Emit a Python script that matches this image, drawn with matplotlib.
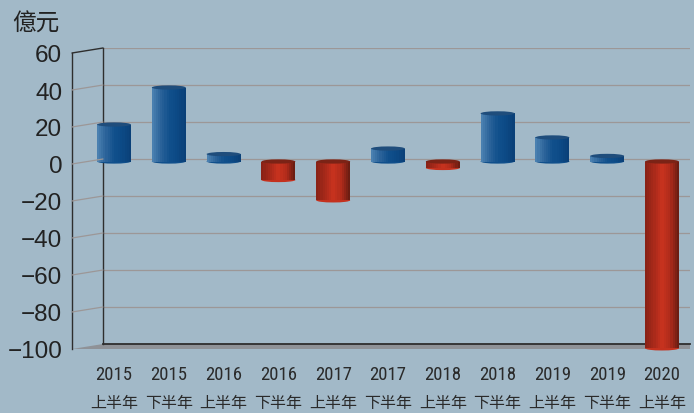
import matplotlib
matplotlib.use("Agg")
import matplotlib.pyplot as plt
from matplotlib.patches import Ellipse, Polygon, ConnectionPatch
from matplotlib.colors import LinearSegmentedColormap
from matplotlib import font_manager
import numpy as np

# ---------------- data ----------------
years = ["2015", "2015", "2016", "2016", "2017", "2017", "2018", "2018", "2019", "2019", "2020"]
halves = ["上半年", "下半年", "上半年", "下半年", "上半年", "下半年", "上半年", "下半年", "上半年", "下半年", "上半年"]
values = [20, 40, 4, -10, -21, 7, -3.5, 26, 13, 3, -101]
y_ticks = [60, 40, 20, 0, -20, -40, -60, -80, -100]
unit_label = "億元"

# ---------------- style ----------------
W, H = 694, 414
BG = "#a2b9c8"
GRID = "#9c9797"
DARK = "#2e2e2e"

available = {f.name for f in font_manager.fontManager.ttflist}
narrow = next((n for n in ["Liberation Sans Narrow", "DejaVu Sans Condensed", "Roboto Condensed",
                           "Open Sans Condensed", "Liberation Sans"] if n in available), "DejaVu Sans")
CJK = "Noto Sans CJK TC"

blue_cmap = LinearSegmentedColormap.from_list("b", ["#4a80b0", "#2c639a", "#11508c", "#0c4a86", "#0a4078"])
red_cmap = LinearSegmentedColormap.from_list("r", ["#8a2216", "#a8291a", "#c9331f", "#b02b1b", "#6c1d12"])


def rect(left, top, right, bottom):
    return [left / W, 1 - bottom / H, (right - left) / W, (bottom - top) / H]


fig = plt.figure(figsize=(W / 100, H / 100), dpi=100)
fig.patch.set_facecolor(BG)

# back wall (grid)
ax_back = fig.add_axes(rect(103, 49, 690, 345))
ax_back.set_ylim(-100, 60)
ax_back.set_xlim(0, 1)
ax_back.set_yticks(y_ticks)
ax_back.yaxis.grid(True, color=GRID, lw=0.9)
ax_back.set_axisbelow(True)
ax_back.tick_params(left=False, bottom=False, labelleft=False, labelbottom=False)
ax_back.set_facecolor("none")
for s in ["top", "right"]:
    ax_back.spines[s].set_visible(False)
ax_back.spines["left"].set_color(DARK)
ax_back.spines["left"].set_lw(1.0)
ax_back.spines["bottom"].set_color(DARK)
ax_back.spines["bottom"].set_lw(1.3)

# front axis (labels)
ax = fig.add_axes(rect(72, 54, 690, 350))
ax.set_ylim(-100, 60)
ax.set_xlim(0, 1)
ax.set_yticks(y_ticks)
ax.set_yticklabels([f"{t}".replace("-", "\u2212") for t in y_ticks],
                   fontsize=17.5, family="Liberation Sans", color="#222222")
ax.tick_params(axis="y", length=0, pad=7)
ax.tick_params(axis="x", bottom=False, labelbottom=False)
ax.set_facecolor("none")
for s in ["top", "right", "bottom"]:
    ax.spines[s].set_visible(False)
ax.spines["left"].set_color(DARK)
ax.spines["left"].set_lw(1.0)

# floor
fig.canvas.draw()
inv = fig.transFigure.inverted()
p1 = ax.transData.transform((0, -100))
p2 = ax_back.transData.transform((0, -100))
p3 = ax_back.transData.transform((1, -100))
p4 = ax.transData.transform((1, -100))
floor = Polygon(inv.transform([p1, p2, p3, p4]), closed=True, transform=fig.transFigure,
                facecolor="#8f9297", edgecolor="none", zorder=0)
fig.add_artist(floor)

# connectors between front axis and back wall
for t in y_ticks[:-1]:
    cp = ConnectionPatch(xyA=(0, t), coordsA=ax.transData, xyB=(0, t), coordsB=ax_back.transData,
                         color=DARK if t == y_ticks[0] else GRID, lw=1.0 if t == y_ticks[0] else 0.9)
    fig.add_artist(cp)

# bars
ax_bar = fig.add_axes(rect(72, 51.5, 690, 347.5))
ax_bar.set_ylim(-100, 60)
spacing = 54.8
left = -(114 - 72) / spacing
ax_bar.set_xlim(left, left + 618 / spacing)
ax_bar.axis("off")
ax_bar.set_facecolor("none")

bw = 0.62
nstrip = 16
cap_h = 2.3
x = np.arange(len(values))
for i, v in zip(x, values):
    cmap = blue_cmap if v >= 0 else red_cmap
    base = min(0, v)
    top = max(0, v)
    sw = bw / nstrip
    offs = -bw / 2 + sw * (np.arange(nstrip) + 0.5)
    clip = v > -100
    ax_bar.add_patch(Ellipse((i, base), bw, cap_h, facecolor=cmap(0.55), edgecolor="none",
                             zorder=2, clip_on=clip))
    ax_bar.bar(i + offs, [top - base] * nstrip, width=sw * 1.05, bottom=base,
               color=[cmap(t) for t in np.linspace(0, 1, nstrip)], edgecolor="none",
               zorder=3, clip_on=clip)
    capcol = "#1f4d7c" if v >= 0 else "#7b2316"
    ax_bar.add_patch(Ellipse((i, top), bw, cap_h, facecolor=capcol, edgecolor="none", zorder=4))

# category labels
tr = matplotlib.transforms.blended_transform_factory(ax_bar.transData, fig.transFigure)
for i, (yr, hf) in enumerate(zip(years, halves)):
    ax_bar.text(i, 1 - 375 / H, yr, transform=tr, ha="center", va="center",
                fontsize=13.5, family=[narrow, CJK], color="#2a2a2a", clip_on=False)
    ax_bar.text(i, 1 - 404 / H, hf, transform=tr, ha="center", va="center",
                fontsize=11.5, family=[CJK], color="#2a2a2a", clip_on=False)

# unit label
fig.text(12 / W, 1 - 24 / H, unit_label, fontsize=17, family=[CJK], color="#222222",
         ha="left", va="center")

fig.savefig("out.png", dpi=100, facecolor=BG)
